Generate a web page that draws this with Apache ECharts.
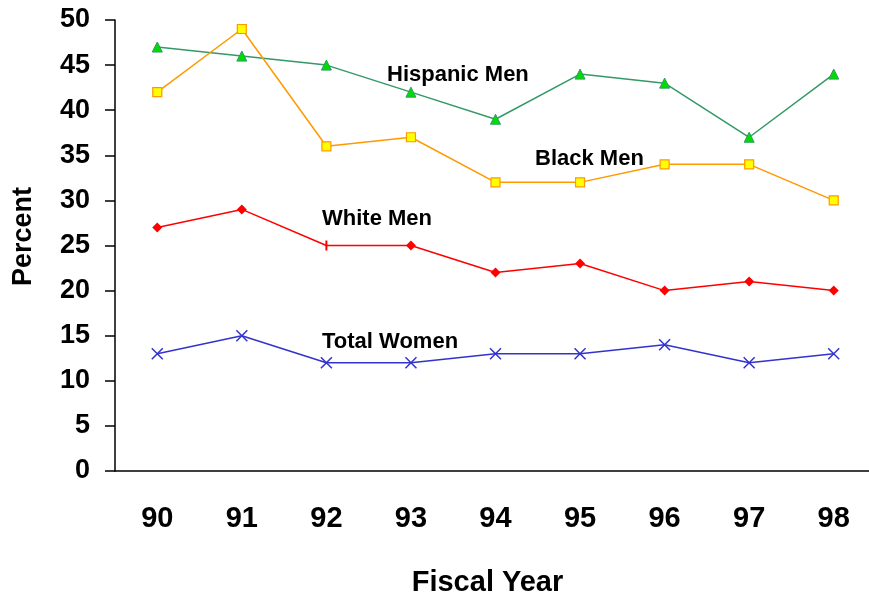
<!DOCTYPE html>
<html>
<head>
<meta charset="utf-8">
<script src="https://cdn.jsdelivr.net/npm/echarts@6/dist/echarts.min.js"></script>
<style>
  html, body { margin: 0; padding: 0; background: #fff; }
  #chart { width: 869px; height: 599px; }
</style>
</head>
<body>
<div id="chart"></div>
<script>
const years = ["90", "91", "92", "93", "94", "95", "96", "97", "98"];
const hispanicMen = [47, 46, 45, 42, 39, 44, 43, 37, 44];
const blackMen = [42, 49, 36, 37, 32, 32, 34, 34, 30];
const whiteMen = [27, 29, 25, 25, 22, 23, 20, 21, 20];
const totalWomen = [13, 15, 12, 12, 13, 13, 14, 12, 13];

const font = "Liberation Sans, Arial, sans-serif";
const chart = echarts.init(document.getElementById("chart"));

// the 92 point of White Men is drawn as a short vertical bar in the original
const whiteData = whiteMen.map((v, i) => i === 2
  ? { value: v, symbol: "rect", symbolSize: [2, 10] }
  : v);

const labelStyle = { fontFamily: font, fontWeight: "bold", fontSize: 22, fill: "#000" };

chart.setOption({
  backgroundColor: "#fff",
  animation: false,
  grid: { left: 115, right: -7, top: 20, bottom: 128, containLabel: false, outerBoundsMode: "none" },
  xAxis: {
    type: "category",
    data: years,
    name: "Fiscal Year",
    nameLocation: "middle",
    nameGap: 97,
    nameTextStyle: { fontFamily: font, fontWeight: "bold", fontSize: 29, color: "#000", padding: [0, 16, 0, 0] },
    axisLine: { lineStyle: { color: "#000", width: 1.5 } },
    axisTick: { inside: false, length: 10, lineStyle: { color: "#000", width: 1.5 } },
    axisLabel: { margin: 33, fontFamily: font, fontWeight: "bold", fontSize: 29, color: "#000" },
    splitLine: { show: false }
  },
  yAxis: {
    type: "value",
    min: 0,
    max: 50,
    interval: 5,
    name: "Percent",
    nameLocation: "middle",
    nameGap: 78,
    nameRotate: 90,
    nameTextStyle: { fontFamily: font, fontWeight: "bold", fontSize: 27, color: "#000", padding: [0, 0, 0, 18] },
    axisLine: { show: true, lineStyle: { color: "#000", width: 1.5 } },
    axisTick: { show: true, length: 10, lineStyle: { color: "#000", width: 1.5 } },
    axisLabel: { margin: 25, padding: [8, 0, 0, 0], fontFamily: font, fontWeight: "bold", fontSize: 27, color: "#000" },
    splitLine: { show: false }
  },
  series: [
    {
      name: "Hispanic Men",
      type: "line",
      data: hispanicMen,
      symbol: "triangle",
      symbolSize: 10,
      lineStyle: { color: "#339966", width: 1.5 },
      itemStyle: { color: "#00dd00", borderColor: "#339966", borderWidth: 1 }
    },
    {
      name: "Black Men",
      type: "line",
      data: blackMen,
      symbol: "rect",
      symbolSize: 9,
      lineStyle: { color: "#ff9900", width: 1.5 },
      itemStyle: { color: "#ffff00", borderColor: "#ff9900", borderWidth: 1.2 }
    },
    {
      name: "White Men",
      type: "line",
      data: whiteData,
      symbol: "diamond",
      symbolSize: 10,
      lineStyle: { color: "#ff0000", width: 1.5 },
      itemStyle: { color: "#ff0000" }
    },
    {
      name: "Total Women",
      type: "line",
      data: totalWomen,
      symbol: "path://M0,0L10,10M10,0L0,10",
      symbolSize: 11,
      lineStyle: { color: "#3333cc", width: 1.5 },
      itemStyle: { color: "none", borderColor: "#3333cc", borderWidth: 1.5 }
    }
  ],
  graphic: [
    { type: "text", left: 387, top: 64, style: Object.assign({ text: "Hispanic Men" }, labelStyle) },
    { type: "text", left: 535, top: 148, style: Object.assign({ text: "Black Men" }, labelStyle) },
    { type: "text", left: 322, top: 208, style: Object.assign({ text: "White Men" }, labelStyle) },
    { type: "text", left: 322, top: 331, style: Object.assign({ text: "Total Women" }, labelStyle) }
  ]
});
</script>
</body>
</html>
